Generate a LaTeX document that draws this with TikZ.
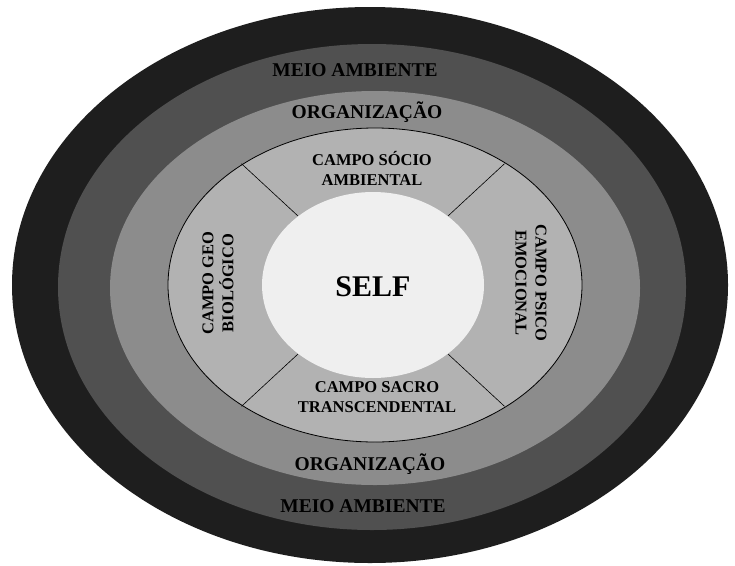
\documentclass[tikz,border=0pt]{standalone}
\usepackage{fontspec}
\setmainfont{Liberation Serif}
\definecolor{ringA}{HTML}{1E1E1E}
\definecolor{ringB}{HTML}{505050}
\definecolor{ringC}{HTML}{8C8C8C}
\definecolor{ringD}{HTML}{B2B2B2}
\definecolor{ringE}{HTML}{EFEFEF}
\tikzset{
  lbl/.style={font=\bfseries\fontsize{19.5}{21}\selectfont, text=black, inner sep=0pt},
  camp/.style={font=\bfseries\fontsize{16.5}{20}\selectfont, text=black, inner sep=0pt, align=center},
  divider/.style={draw=black, line width=0.6pt},
}
\begin{document}
\begin{tikzpicture}[x=1pt,y=-1pt]
\useasboundingbox[fill=white] (0,0) rectangle (735,565);
% rings
\fill[ringA] (370,285) ellipse [x radius=358, y radius=278];
\fill[ringB] (372,287) ellipse [x radius=314, y radius=243];
\fill[ringC] (375,288) ellipse [x radius=265, y radius=197];
\filldraw[fill=ringD, draw=black, line width=0.8pt] (375,285) ellipse [x radius=207, y radius=157];
% dividers
\coordinate (tlin) at (298,216);  \coordinate (tlout) at (241.5,163.7);
\coordinate (trin) at (448,216);  \coordinate (trout) at (504.5,163.7);
\coordinate (blin) at (298,354);  \coordinate (blout) at (241.5,406.3);
\coordinate (brin) at (448,354);  \coordinate (brout) at (504.5,406.3);
\draw[divider] (tlin) -- (tlout);
\draw[divider] (trin) -- (trout);
\draw[divider] (blin) -- (blout);
\draw[divider] (brin) -- (brout);
\fill[ringE] (373,285) ellipse [x radius=111, y radius=93];
% labels
\node[lbl, font=\bfseries\fontsize{19.5}{21}\selectfont] (meiotop) at (355,70) {MEIO AMBIENTE};
\node[lbl] (orgtop) at (367,112) {ORGANIZAÇÃO};
\node[camp] (socio) at (372,168) {CAMPO SÓCIO\\AMBIENTAL};
\node[camp] (sacro) at (377,397) {CAMPO SACRO\\TRANSCENDENTAL};
\node[camp, rotate=90] (geo) at (218,283) {CAMPO GEO\\BIOLÓGICO};
\node[camp, rotate=-90] (psico) at (531,283) {CAMPO PSICO\\EMOCIONAL};
\node[font=\bfseries\fontsize{30}{32}\selectfont, inner sep=0pt] (self) at (373,287) {SELF};
\node[lbl] (orgbot) at (370,464) {ORGANIZAÇÃO};
\node[lbl] (meiobot) at (363,506) {MEIO AMBIENTE};
\end{tikzpicture}
\end{document}
